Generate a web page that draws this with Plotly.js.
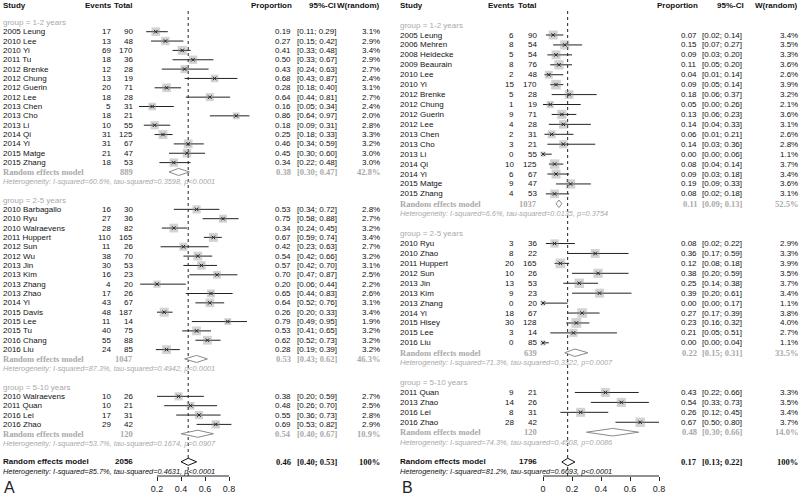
<!DOCTYPE html>
<html>
<head>
<meta charset="utf-8">
<script src="https://cdn.plot.ly/plotly-3.0.1.min.js"></script>
<style>
  html, body { margin: 0; padding: 0; background: #fff; }
  #chart { width: 800px; height: 496px; }
</style>
</head>
<body>
<div id="chart"></div>
<script>
const groupNames = ["group = 1-2 years", "group = 2-5 years", "group = 5-10 years"];

// Panel A
const aStudy = ["2005 Leung", "2010 Lee", "2010 Yi", "2011 Tu", "2012 Brenke", "2012 Chung", "2012 Guerin", "2012 Lee",
  "2013 Chen", "2013 Cho", "2013 Li", "2014 Qi", "2014 Yi", "2015 Matge", "2015 Zhang",
  "2010 Barbagallo", "2010 Ryu", "2010 Walraevens", "2011 Huppert", "2012 Sun", "2012 Wu", "2013 Jin", "2013 Kim",
  "2013 Zhang", "2013 Zhao", "2014 Yi", "2015 Davis", "2015 Lee", "2015 Tu", "2016 Chang", "2016 Liu",
  "2010 Walraevens", "2011 Quan", "2016 Lei", "2016 Zhao"];
const aGroup = [0,0,0,0,0,0,0,0,0,0,0,0,0,0,0, 1,1,1,1,1,1,1,1,1,1,1,1,1,1,1,1, 2,2,2,2];
const aEvents = [17,13,69,18,12,13,20,18,5,18,10,31,31,21,18, 16,27,28,110,11,38,30,16,4,17,43,48,11,40,55,24, 10,10,17,29];
const aTotal = [90,48,170,36,28,19,71,28,31,21,55,125,67,47,53, 30,36,82,165,26,70,53,23,20,26,67,187,14,75,88,85, 26,21,31,42];
const aProp = [0.19,0.27,0.41,0.50,0.43,0.68,0.28,0.64,0.16,0.86,0.18,0.25,0.46,0.45,0.34,
  0.53,0.75,0.34,0.67,0.42,0.54,0.57,0.70,0.20,0.65,0.64,0.26,0.79,0.53,0.62,0.28, 0.38,0.48,0.55,0.69];
const aLower = [0.11,0.15,0.33,0.33,0.24,0.43,0.18,0.44,0.05,0.64,0.09,0.18,0.34,0.30,0.22,
  0.34,0.58,0.24,0.59,0.23,0.42,0.42,0.47,0.06,0.44,0.52,0.20,0.49,0.41,0.52,0.19, 0.20,0.26,0.36,0.53];
const aUpper = [0.29,0.42,0.48,0.67,0.63,0.87,0.40,0.81,0.34,0.97,0.31,0.33,0.59,0.60,0.48,
  0.72,0.88,0.45,0.74,0.63,0.66,0.70,0.87,0.44,0.83,0.76,0.33,0.95,0.65,0.73,0.39, 0.59,0.70,0.73,0.82];
const aWeight = [3.1,2.9,3.4,2.9,2.7,2.4,3.1,2.7,2.4,2.0,2.8,3.3,3.2,3.0,3.0,
  2.8,2.7,3.2,3.4,2.7,3.2,3.1,2.5,2.2,2.6,3.1,3.4,1.9,3.2,3.2,3.2, 2.7,2.5,2.8,2.9];
const aGroupProp = [0.38, 0.53, 0.54];
const aGroupLower = [0.30, 0.43, 0.40];
const aGroupUpper = [0.47, 0.62, 0.67];
const aGroupWeight = [42.8, 46.3, 10.9];
const aGroupHet = [
  "Heterogeneity: I-squared=60.6%, tau-squared=0.3598, p<0.0001",
  "Heterogeneity: I-squared=87.3%, tau-squared=0.4942, p<0.0001",
  "Heterogeneity: I-squared=53.7%, tau-squared=0.1674, p=0.0907"];
const aOverall = [0.46, 0.40, 0.53];
const aOverallHet = "Heterogeneity: I-squared=85.7%, tau-squared=0.4631, p<0.0001";

// Panel B
const bStudy = ["2005 Leung", "2006 Mehren", "2008 Heidecke", "2009 Beaurain", "2010 Lee", "2010 Yi", "2012 Brenke",
  "2012 Chung", "2012 Guerin", "2012 Lee", "2013 Chen", "2013 Cho", "2013 Li", "2014 Qi", "2014 Yi", "2015 Matge", "2015 Zhang",
  "2010 Ryu", "2010 Zhao", "2011 Huppert", "2012 Sun", "2013 Jin", "2013 Kim", "2013 Zhang", "2014 Yi", "2015 Hisey",
  "2015 Lee", "2016 Liu",
  "2011 Quan", "2013 Zhao", "2016 Lei", "2016 Zhao"];
const bGroup = [0,0,0,0,0,0,0,0,0,0,0,0,0,0,0,0,0, 1,1,1,1,1,1,1,1,1,1,1, 2,2,2,2];
const bEvents = [6,8,5,8,2,15,5,1,9,4,2,3,0,10,6,9,4, 3,8,20,10,13,9,0,18,30,3,0, 9,14,8,28];
const bTotal = [90,54,54,76,48,170,28,19,71,28,31,21,55,125,67,47,53, 36,22,165,26,53,23,20,67,128,14,85, 21,26,31,42];
const bProp = [0.07,0.15,0.09,0.11,0.04,0.09,0.18,0.05,0.13,0.14,0.06,0.14,0.00,0.08,0.09,0.19,0.08,
  0.08,0.36,0.12,0.38,0.25,0.39,0.00,0.27,0.23,0.21,0.00, 0.43,0.54,0.26,0.67];
const bLower = [0.02,0.07,0.03,0.05,0.01,0.05,0.06,0.00,0.06,0.04,0.01,0.03,0.00,0.04,0.03,0.09,0.02,
  0.02,0.17,0.08,0.20,0.14,0.20,0.00,0.17,0.16,0.05,0.00, 0.22,0.33,0.12,0.50];
const bUpper = [0.14,0.27,0.20,0.20,0.14,0.14,0.37,0.26,0.23,0.33,0.21,0.36,0.06,0.14,0.18,0.33,0.18,
  0.22,0.59,0.18,0.59,0.38,0.61,0.17,0.39,0.32,0.51,0.04, 0.66,0.73,0.45,0.80];
const bWeight = [3.4,3.5,3.3,3.6,2.6,3.9,3.2,2.1,3.6,3.1,2.6,2.8,1.1,3.7,3.4,3.6,3.1,
  2.9,3.3,3.9,3.5,3.7,3.4,1.1,3.8,4.0,2.7,1.1, 3.3,3.5,3.4,3.7];
const bGroupProp = [0.11, 0.22, 0.48];
const bGroupLower = [0.09, 0.15, 0.30];
const bGroupUpper = [0.13, 0.31, 0.66];
const bGroupWeight = [52.5, 33.5, 14.0];
const bGroupHet = [
  "Heterogeneity: I-squared=6.6%, tau-squared=0.0135, p=0.3754",
  "Heterogeneity: I-squared=71.3%, tau-squared=0.3322, p=0.0007",
  "Heterogeneity: I-squared=74.3%, tau-squared=0.4508, p=0.0086"];
const bOverall = [0.17, 0.13, 0.22];
const bOverallHet = "Heterogeneity: I-squared=81.2%, tau-squared=0.6693, p<0.0001";

const W = 800, H = 496, AXIS_PX = 476;
const SANS = "Liberation Sans, Arial, sans-serif";
const SERIF = "Liberation Serif, Times New Roman, serif";
const GRAY = "#a9a9a9";

const panels = [
  { letter: "A", xa: "x", ya: "y", x0: 133, ppu: 120, rowTop: 31.7, rowStep: 9.35,
    ticks: [0.2, 0.4, 0.6, 0.8],
    cols: { study: 2, events: 112, total: 134, prop: 292, ci: 296, ciHead: 337, w: 381 }, letterX: 3,
    study: aStudy, group: aGroup, events: aEvents, total: aTotal, prop: aProp, lo: aLower, hi: aUpper, w: aWeight,
    gProp: aGroupProp, gLo: aGroupLower, gHi: aGroupUpper, gW: aGroupWeight, gHet: aGroupHet,
    overall: aOverall, overallHet: aOverallHet },
  { letter: "B", xa: "x2", ya: "y2", x0: 543, ppu: 145, rowTop: 35, rowStep: 9.93,
    ticks: [0, 0.2, 0.4, 0.6, 0.8],
    cols: { study: 399, events: 515, total: 538, prop: 698, ci: 701, ciHead: 745, w: 799 }, letterX: 401,
    study: bStudy, group: bGroup, events: bEvents, total: bTotal, prop: bProp, lo: bLower, hi: bUpper, w: bWeight,
    gProp: bGroupProp, gLo: bGroupLower, gHi: bGroupUpper, gW: bGroupWeight, gHet: bGroupHet,
    overall: bOverall, overallHet: bOverallHet }
];

const traces = [];
const annotations = [];
const shapes = [];
const layout = {
  width: W, height: H,
  margin: { l: 0, r: 0, t: 0, b: 0 },
  paper_bgcolor: "#fff", plot_bgcolor: "rgba(0,0,0,0)",
  showlegend: false,
  font: { family: SANS, size: 8, color: "#111" }
};

function ci(lo, hi) {
  return "[" + lo.toFixed(2) + "; " + hi.toFixed(2) + "]";
}

panels.forEach((p, idx) => {
  const yref = p.ya;
  const rowOf = (px) => 2 + (px - p.rowTop) / p.rowStep;
  const add = (text, xpx, y, anchor, font, yr) => annotations.push({
    text: text, x: xpx / W, xref: "paper", y: y, yref: yr || yref,
    xanchor: anchor, yanchor: "middle", showarrow: false, borderpad: 0,
    font: Object.assign({ family: SANS, size: 8, color: "#111" }, font || {})
  });
  const c = p.cols;

  // axes
  const sfx = idx === 0 ? "" : "2";
  layout["xaxis" + sfx] = {
    domain: [(p.x0 - 0.1 * p.ppu) / W, (p.x0 + 1.1 * p.ppu) / W],
    range: [-0.1, 1.1], anchor: p.ya, showgrid: false, zeroline: false, showline: false,
    tickmode: "array", tickvals: p.ticks, ticks: "outside", ticklen: 4, tickwidth: 1, tickcolor: "#222",
    tickfont: { family: SANS, size: 9, color: "#222" }, fixedrange: true
  };
  layout["yaxis" + sfx] = {
    domain: [(H - AXIS_PX) / H, 1], range: [rowOf(AXIS_PX), rowOf(0)],
    anchor: p.xa, visible: false, fixedrange: true
  };

  // headers
  const hy = 1 - 5 / H;
  add("<b>Study</b>", c.study, hy, "left", null, "paper");
  add("<b>Events</b>", c.events + 1, hy, "right", null, "paper");
  add("<b>Total</b>", c.total, hy, "right", null, "paper");
  add("<b>Proportion</b>", c.prop + 1, hy, "right", null, "paper");
  add("<b>95%-CI</b>", c.ciHead, hy, "right", null, "paper");
  add("<b>W(random)</b>", c.w, hy, "right", null, "paper");

  // rows
  const rows = new Array(p.study.length);
  const gRows = [], hetRows = [];
  let r = 1;
  for (let g = 0; g < groupNames.length; g++) {
    add(groupNames[g], c.study, r, "left", { color: GRAY });
    r++;
    p.study.forEach((s, i) => { if (p.group[i] === g) { rows[i] = r; r++; } });
    gRows.push(r); r++;
    hetRows.push(r); r++;
    r++;
  }
  const overallRow = r, overallHetRow = r + 1;

  p.study.forEach((s, i) => {
    add(s, c.study, rows[i], "left");
    add(String(p.events[i]), c.events, rows[i], "right");
    add(String(p.total[i]), c.total, rows[i], "right");
    add(p.prop[i].toFixed(2), c.prop, rows[i], "right");
    add(ci(p.lo[i], p.hi[i]), c.ci, rows[i], "left");
    add(p.w[i].toFixed(1) + "%", c.w, rows[i], "right");
  });

  const gFont = { family: SERIF, color: GRAY, size: 8.5 };
  const hetSize = 7.4;
  for (let g = 0; g < groupNames.length; g++) {
    const tot = p.total.filter((t, i) => p.group[i] === g).reduce((a, b) => a + b, 0);
    add("<b>Random effects model</b>", c.study, gRows[g], "left", gFont);
    add("<b>" + tot + "</b>", c.total, gRows[g], "right", gFont);
    add("<b>" + p.gProp[g].toFixed(2) + "</b>", c.prop, gRows[g], "right", gFont);
    add("<b>" + ci(p.gLo[g], p.gHi[g]) + "</b>", c.ci, gRows[g], "left", gFont);
    add("<b>" + p.gW[g].toFixed(1) + "%</b>", c.w, gRows[g], "right", gFont);
    add("<i>" + p.gHet[g] + "</i>", c.study, hetRows[g], "left", { color: GRAY, size: hetSize });
  }
  const allTotal = p.total.reduce((a, b) => a + b, 0);
  const oFont = { family: SERIF, color: "#111", size: 8.5 };
  add("<b>Random effects model</b>", c.study, overallRow, "left");
  add("<b>" + allTotal + "</b>", c.total, overallRow, "right");
  add("<b>" + p.overall[0].toFixed(2) + "</b>", c.prop, overallRow, "right", oFont);
  add("<b>" + ci(p.overall[1], p.overall[2]) + "</b>", c.ci, overallRow, "left", oFont);
  add("<b>100%</b>", c.w, overallRow, "right", oFont);
  add("<i>" + p.overallHet + "</i>", c.study, overallHetRow, "left", { color: "#111", size: hetSize });

  // panel letter
  annotations.push({ text: p.letter, x: p.letterX / W, xref: "paper", y: 1 - 487 / H, yref: "paper",
    xanchor: "left", yanchor: "middle", showarrow: false, borderpad: 0,
    font: { family: SANS, size: 16, color: "#222" } });

  // CI lines
  const lx = [], ly = [];
  p.study.forEach((s, i) => { lx.push(p.lo[i], p.hi[i], null); ly.push(rows[i], rows[i], null); });
  traces.push({ x: lx, y: ly, xaxis: p.xa, yaxis: p.ya, mode: "lines", type: "scatter",
    line: { color: "#222", width: 1 }, hoverinfo: "skip" });

  // weighted squares
  traces.push({ x: p.prop, y: rows, xaxis: p.xa, yaxis: p.ya, mode: "markers", type: "scatter", cliponaxis: false,
    marker: { symbol: "square", size: p.w.map(w => 4.9 * Math.sqrt(w)), color: "rgba(140,140,140,0.55)",
      line: { width: 0 } } });
  traces.push({ x: p.prop, y: rows, xaxis: p.xa, yaxis: p.ya, mode: "markers", type: "scatter", cliponaxis: false,
    marker: { symbol: "x-thin", size: 3.5, line: { width: 1, color: "#222" } } });

  // diamonds
  const h = 0.38;
  const dx = [], dy = [];
  for (let g = 0; g < groupNames.length; g++) {
    dx.push(p.gLo[g], p.gProp[g], p.gHi[g], p.gProp[g], p.gLo[g], null);
    dy.push(gRows[g], gRows[g] - h, gRows[g], gRows[g] + h, gRows[g], null);
  }
  traces.push({ x: dx, y: dy, xaxis: p.xa, yaxis: p.ya, mode: "lines", type: "scatter", fill: "toself",
    fillcolor: "#fff", line: { color: "#8a8a8a", width: 1 }, hoverinfo: "skip" });
  traces.push({ x: [p.overall[1], p.overall[0], p.overall[2], p.overall[0], p.overall[1]],
    y: [overallRow, overallRow - h, overallRow, overallRow + h, overallRow],
    xaxis: p.xa, yaxis: p.ya, mode: "lines", type: "scatter", fill: "toself",
    fillcolor: "#fff", line: { color: "#111", width: 1 }, hoverinfo: "skip" });

  // reference dotted line and axis line
  shapes.push({ type: "line", xref: p.xa, yref: "paper", x0: p.overall[0], x1: p.overall[0],
    y0: (H - AXIS_PX) / H, y1: 1 - 9 / H, line: { color: "#222", width: 1, dash: "dot" }, layer: "below" });
  shapes.push({ type: "line", xref: p.xa, yref: "paper", x0: p.ticks[0], x1: p.ticks[p.ticks.length - 1],
    y0: (H - AXIS_PX) / H, y1: (H - AXIS_PX) / H, line: { color: "#222", width: 1 } });
});

layout.annotations = annotations;
layout.shapes = shapes;

Plotly.newPlot("chart", traces, layout, { displayModeBar: false, responsive: false });
</script>
</body>
</html>
